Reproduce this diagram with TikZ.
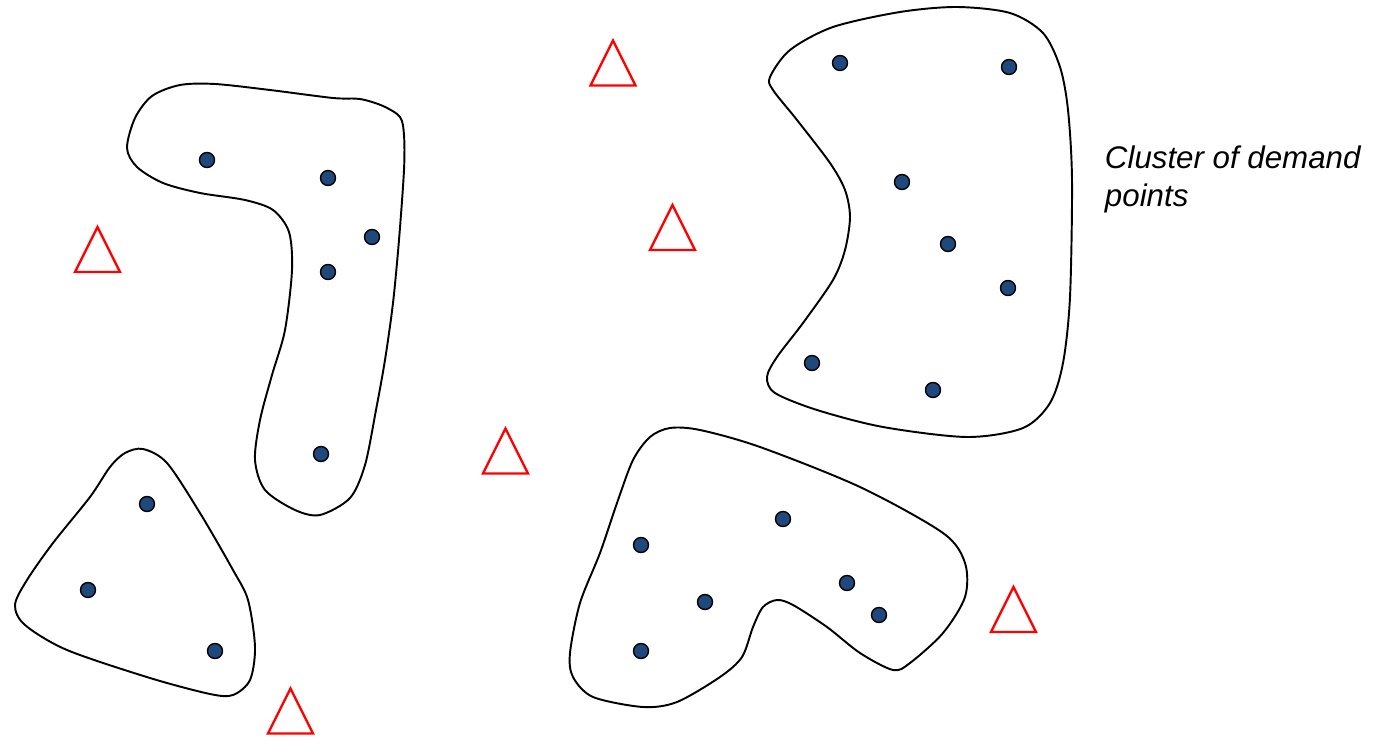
\documentclass[tikz,border=0pt]{standalone}
\usepackage{fontspec}
\setmainfont{Liberation Sans}
\definecolor{dotblue}{RGB}{31,73,125}
\definecolor{facred}{RGB}{255,0,0}

\begin{document}
\begin{tikzpicture}[x=0.02cm,y=-0.02cm,line width=1.1pt,
  demand/.style={circle,draw=black,fill=dotblue,line width=0.8pt,
    minimum size=0.3cm,inner sep=0pt},
  region/.style={draw=black,line width=1.1pt},
  facility/.pic={\draw[draw=facred,line width=1.3pt]
    (0,-22.5) -- (22.5,22.5) -- (-22.5,22.5) -- cycle;}]
  \useasboundingbox (0,0) rectangle (1373,740);

  % cluster outlines
  \draw[region] plot[smooth cycle,tension=0.5] coordinates {
    (127,148) (135,118) (152,96) (180,85) (215,84) (270,90) (333,98)
    (360,99) (383,106) (400,117) (404,135) (404,170) (399,240) (393,303)
    (385,360) (376,410) (365,465) (350,498) (320,515) (295,510) (265,490)
    (255,460) (260,420) (272,375) (285,330) (292,270) (289,232) (273,210)
    (245,200) (200,193) (163,183) (137,167)};
  \draw[region] plot[smooth cycle,tension=0.5] coordinates {
    (143,449) (167,463) (200,513) (233,570) (248,600) (255,647) (250,680)
    (233,695) (210,694) (150,678) (67,650) (25,625) (15,605) (27,580)
    (53,543) (90,497) (110,467) (125,453)};
  \draw[region] plot[smooth cycle,tension=0.5] coordinates {
    (770,77) (790,50) (833,27) (900,12) (957,7) (1010,13) (1043,33)
    (1060,67) (1068,110) (1072,180) (1070,297) (1063,363) (1050,403)
    (1023,428) (967,437) (883,427) (817,410) (775,393) (767,377) (777,357)
    (803,323) (833,280) (845,250) (850,217) (845,190) (830,163) (797,120)
    (773,90)};
  \draw[region] plot[smooth cycle,tension=0.5] coordinates {
    (670,428) (700,430) (760,447) (860,487) (943,533) (965,563) (965,597)
    (943,633) (910,663) (893,670) (860,653) (827,627) (793,605) (777,600)
    (763,607) (753,627) (742,657) (720,677) (677,702) (643,707) (593,697)
    (573,677) (570,653) (580,603) (600,553) (617,503) (633,460) (650,437)};

  % demand points
  \node[demand] (a1) at (207,160) {};
  \node[demand] (a2) at (328,178) {};
  \node[demand] (a3) at (372,237) {};
  \node[demand] (a4) at (328,272) {};
  \node[demand] (a5) at (321,454) {};

  \node[demand] (b1) at (147,504) {};
  \node[demand] (b2) at (88,590) {};
  \node[demand] (b3) at (215,651) {};

  \node[demand] (c1) at (840,63) {};
  \node[demand] (c2) at (1009,67) {};
  \node[demand] (c3) at (902,182) {};
  \node[demand] (c4) at (948,244) {};
  \node[demand] (c5) at (1008,288) {};
  \node[demand] (c6) at (812,363) {};
  \node[demand] (c7) at (933,390) {};

  \node[demand] (e1) at (641,545) {};
  \node[demand] (e2) at (783,519) {};
  \node[demand] (e3) at (705,602) {};
  \node[demand] (e4) at (847,583) {};
  \node[demand] (e5) at (879,615) {};
  \node[demand] (e6) at (641,651) {};

  % facilities
  \pic (f1) at (97.5,249.5) {facility};
  \pic (f2) at (613,63) {facility};
  \pic (f3) at (672.5,227.5) {facility};
  \pic (f4) at (505.5,451) {facility};
  \pic (f5) at (1013.5,609.5) {facility};
  \pic (f6) at (290.5,711) {facility};

  \node[anchor=base west,align=left,inner sep=0pt,
    font=\fontsize{17.8}{21.5}\selectfont\itshape] (lbl) at (1104,206)
    {Cluster of demand\\points};
\end{tikzpicture}
\end{document}
